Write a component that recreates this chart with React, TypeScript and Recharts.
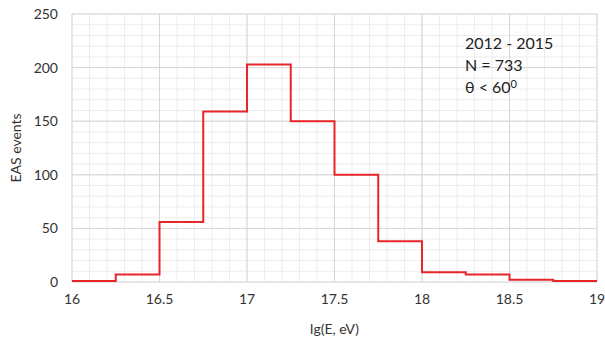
import { CartesianGrid, Label, Line, LineChart, XAxis, YAxis } from "recharts"

// bin lower edges in lg(E, eV) and counts per bin (last point closes the final step)
const binEdges = [16, 16.25, 16.5, 16.75, 17, 17.25, 17.5, 17.75, 18, 18.25, 18.5, 18.75, 19]
const counts = [1, 7, 56, 159, 203, 150, 100, 38, 9, 7, 2, 1, 1]

const xTicks = [16, 16.5, 17, 17.5, 18, 18.5, 19]
const yTicks = [0, 50, 100, 150, 200, 250]
const xMinorTicks = [
  16, 16.1, 16.2, 16.3, 16.4, 16.5, 16.6, 16.7, 16.8, 16.9, 17, 17.1, 17.2, 17.3, 17.4, 17.5,
  17.6, 17.7, 17.8, 17.9, 18, 18.1, 18.2, 18.3, 18.4, 18.5, 18.6, 18.7, 18.8, 18.9, 19,
]
const yMinorTicks = [
  0, 10, 20, 30, 40, 50, 60, 70, 80, 90, 100, 110, 120, 130, 140, 150, 160, 170, 180, 190, 200,
  210, 220, 230, 240, 250,
]

const data = binEdges.map((e, i) => ({ e, n: counts[i] }))

const font = "Lato, 'Open Sans', sans-serif"
const textColor = "#333"

const minorX = ({ xAxis, offset }: any) =>
  xMinorTicks.map((v) =>
    typeof xAxis?.scale === "function"
      ? xAxis.scale(v)
      : offset.left + ((v - 16) / 3) * offset.width
  )
const minorY = ({ yAxis, offset }: any) =>
  yMinorTicks.map((v) =>
    typeof yAxis?.scale === "function"
      ? yAxis.scale(v)
      : offset.top + (1 - v / 250) * offset.height
  )

export default function App() {
  return (
    <div style={{ position: "absolute", left: 0, top: 0, width: 605, height: 340, fontFamily: font }}>
      <LineChart width={605} height={340} data={data} margin={{ top: 14, right: 8, bottom: 0, left: 0 }}>
        <CartesianGrid
          stroke="#ededed"
          strokeWidth={1}
          verticalCoordinatesGenerator={minorX}
          horizontalCoordinatesGenerator={minorY}
        />
        <CartesianGrid stroke="#d6d6d6" strokeWidth={1} />
        <XAxis
          dataKey="e"
          type="number"
          domain={[16, 19]}
          ticks={xTicks}
          axisLine={false}
          tickLine={false}
          tickSize={0}
          tickMargin={12}
          height={58}
          tick={{ fill: textColor, fontSize: 14, fontFamily: font }}
        >
          <Label value="lg(E, eV)" position="insideBottom" offset={6} fill={textColor} fontSize={14} fontFamily={font} />
        </XAxis>
        <YAxis
          type="number"
          domain={[0, 250]}
          ticks={yTicks}
          axisLine={false}
          tickLine={false}
          tickSize={0}
          tickMargin={14}
          width={72}
          tick={{ fill: textColor, fontSize: 14, fontFamily: font }}
        >
          <Label value="EAS events" angle={-90} position="insideLeft" offset={16} fill={textColor} fontSize={14} fontFamily={font} style={{ textAnchor: "middle" }} />
        </YAxis>
        <Line
          type="stepAfter"
          dataKey="n"
          stroke="#e8262a"
          strokeWidth={2}
          dot={false}
          isAnimationActive={false}
        />
      </LineChart>
      <div style={{ position: "absolute", left: 465, top: 32, fontSize: 16, lineHeight: "22px", color: "#222" }}>
        <div>2012 - 2015</div>
        <div>N = 733</div>
        <div>
          θ &lt; 60<sup style={{ fontSize: 11, verticalAlign: "5px", lineHeight: 0 }}>0</sup>
        </div>
      </div>
    </div>
  )
}
